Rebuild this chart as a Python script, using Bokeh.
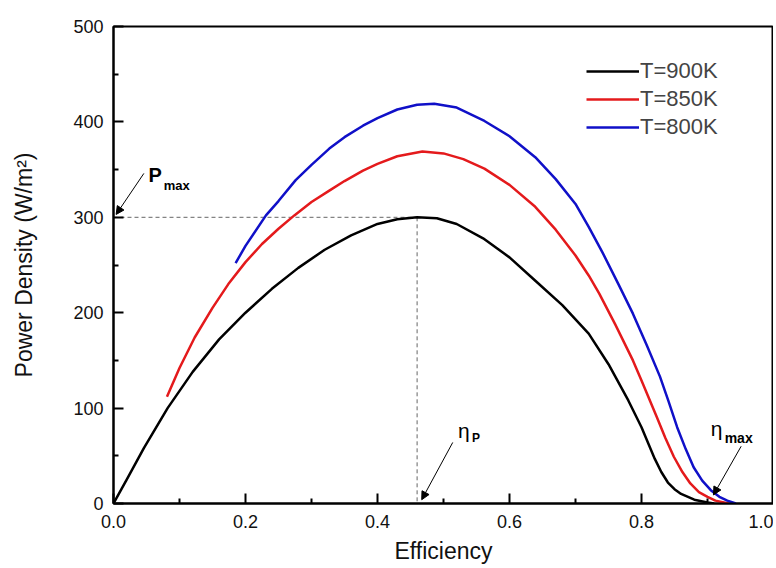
import numpy as np
from bokeh.plotting import figure
from bokeh.models import (Range1d, Arrow, NormalHead, Legend, LegendItem, Label,
                          FixedTicker, PrintfTickFormatter)
from bokeh.embed import file_html
from bokeh.resources import INLINE

# ---- data ----
eff_900 = [0, 0.02, 0.046, 0.082, 0.12, 0.16, 0.2, 0.24, 0.28, 0.32, 0.36, 0.40, 0.43,
           0.46, 0.49, 0.52, 0.56, 0.60, 0.64, 0.68, 0.72, 0.75, 0.78, 0.80, 0.82,
           0.83, 0.84, 0.85, 0.86, 0.88, 0.90, 0.91]
pow_900 = [0, 25, 58, 100, 138, 172, 200, 225, 247, 266, 281, 293, 298,
           300, 299, 293, 278, 258, 233, 208, 178, 146, 108, 80, 47,
           33, 22, 15, 10, 4, 1, 0]

eff_850 = [0.081, 0.10, 0.123, 0.15, 0.174, 0.2, 0.225, 0.25, 0.274, 0.30, 0.327, 0.35,
           0.378, 0.40, 0.43, 0.468, 0.50, 0.53, 0.562, 0.60, 0.639, 0.67, 0.70, 0.72,
           0.736, 0.76, 0.787, 0.80, 0.823, 0.836, 0.849, 0.862, 0.874, 0.887, 0.90,
           0.912, 0.925, 0.932]
pow_850 = [112, 142, 174, 205, 230, 253, 272, 288, 302, 316, 328, 338,
           349, 356, 364, 369, 367, 361, 351, 334, 311, 287, 260, 239,
           220, 188, 150, 129, 91, 69, 49, 33, 21, 12, 7,
           3, 1, 0]

eff_800 = [0.185, 0.20, 0.231, 0.25, 0.276, 0.30, 0.327, 0.35, 0.378, 0.40, 0.43, 0.46,
           0.486, 0.52, 0.562, 0.60, 0.639, 0.67, 0.70, 0.72, 0.741, 0.765, 0.787, 0.808,
           0.828, 0.841, 0.854, 0.867, 0.879, 0.892, 0.905, 0.918, 0.93, 0.943]
pow_800 = [252, 270, 302, 317, 339, 355, 372, 384, 396, 404, 413, 418,
           419, 415, 401, 385, 363, 340, 314, 290, 263, 230, 199, 166,
           133, 107, 80, 57, 38, 24, 14, 7, 3, 0]

series_labels = ["T=900K", "T=850K", "T=800K"]
series_colors = ["#000000", "#e41a1c", "#1010c8"]

x_ticks = [0.0, 0.2, 0.4, 0.6, 0.8, 1.0]
x_minor = [0.1, 0.3, 0.5, 0.7, 0.9]
y_ticks = [0, 100, 200, 300, 400, 500]
y_minor = [50, 150, 250, 350, 450]

FONT = "Liberation Sans"

p = figure(frame_width=660, frame_height=477, x_range=Range1d(0, 1), y_range=Range1d(0, 500),
           output_backend="svg", toolbar_location=None,
           min_border_left=113, min_border_right=0, min_border_top=26, min_border_bottom=57)
p.xgrid.visible = False
p.ygrid.visible = False
p.outline_line_color = "black"
p.outline_line_width = 2
p.background_fill_color = "white"
p.border_fill_color = "white"

p.xaxis.ticker = FixedTicker(ticks=x_ticks, minor_ticks=x_minor)
p.yaxis.ticker = FixedTicker(ticks=y_ticks, minor_ticks=y_minor)
p.xaxis.formatter = PrintfTickFormatter(format="%.1f")
for ax in (p.xaxis, p.yaxis):
    ax.axis_line_width = 2
    ax.major_tick_line_width = 2
    ax.minor_tick_line_width = 2
    ax.major_tick_in = 10
    ax.major_tick_out = 0
    ax.minor_tick_in = 5
    ax.minor_tick_out = 0
    ax.major_label_text_font = FONT
    ax.major_label_text_font_size = "18px"
    ax.major_label_text_color = "#111111"
    ax.axis_label_text_font = FONT
    ax.axis_label_text_font_size = "23px"
    ax.axis_label_text_font_style = "normal"
    ax.axis_label_text_color = "#111111"
p.xaxis.major_label_standoff = 11
p.yaxis.major_label_standoff = 10
p.xaxis.axis_label = "Efficiency"
p.yaxis.axis_label = "Power Density (W/m²)"
p.xaxis.axis_label_standoff = 7
p.yaxis.axis_label_standoff = 33

# dashed guide lines to the maximum power point of the T=900K curve
ipk = int(np.argmax(pow_900))
pk_x, pk_y = eff_900[ipk], pow_900[ipk]
p.line([0, pk_x], [pk_y, pk_y], line_color="#666666", line_width=1, line_dash="4 3")
p.line([pk_x, pk_x], [pk_y, 0], line_color="#666666", line_width=1, line_dash="4 3")

renderers = []
for ex, pw, c in zip([eff_900, eff_850, eff_800], [pow_900, pow_850, pow_800], series_colors):
    r = p.line(ex, pw, line_color=c, line_width=2.5, line_join="round")
    renderers.append(r)

legend = Legend(items=[LegendItem(label=l, renderers=[r]) for l, r in zip(series_labels, renderers)],
                location=(473, 362), padding=0, margin=0, spacing=0,
                glyph_width=53, glyph_height=28, label_height=28, label_standoff=1,
                label_text_font=FONT, label_text_font_size="22px",
                border_line_color=None, background_fill_alpha=0)
p.add_layout(legend)

# annotations
def lab(x, y, t, size, bold):
    p.add_layout(Label(x=x, y=y, text=t, text_font=FONT, text_font_size=size,
                       text_font_style="bold" if bold else "normal",
                       text_baseline="alphabetic", text_color="black"))

lab(0.053, 344, "P", "20px", True)
lab(0.076, 333, "max", "13px", True)
lab(0.522, 77, "η", "21px", False)
lab(0.543, 69, "P", "12px", True)
lab(0.905, 79, "η", "21px", False)
lab(0.926, 69, "max", "14px", True)

for xs, ys, xe, ye in [(0.046, 346, 0.004, 303), (0.514, 64, 0.467, 4), (0.951, 60, 0.909, 9)]:
    p.add_layout(Arrow(x_start=xs, y_start=ys, x_end=xe, y_end=ye, line_width=1,
                       line_color="black",
                       end=NormalHead(size=8, fill_color="black", line_color="black")))

open("out.html", "w").write(file_html(p, INLINE))
